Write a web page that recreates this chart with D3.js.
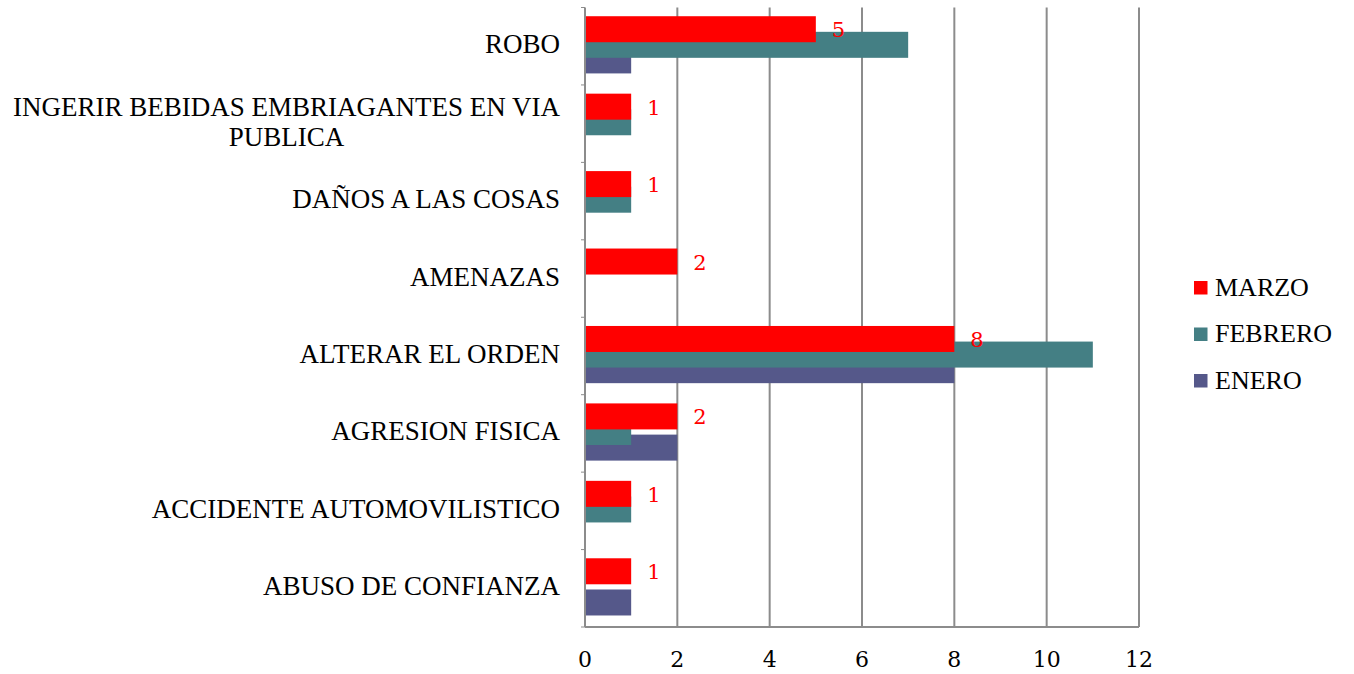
<!DOCTYPE html>
<html>
<head>
<meta charset="utf-8">
<script src="https://cdn.jsdelivr.net/npm/d3@7"></script>
<style>
  html, body { margin: 0; padding: 0; background: #fff; }
  svg { display: block; }
  text { font-family: "Liberation Serif", "Times New Roman", serif; }
  text.num { font-family: "DejaVu Serif", serif; }
</style>
</head>
<body>
<svg id="chart" width="1354" height="674"></svg>
<script>
const categories = [
  "ROBO",
  "INGERIR BEBIDAS EMBRIAGANTES EN VIA PUBLICA",
  "DAÑOS A LAS COSAS",
  "AMENAZAS",
  "ALTERAR EL ORDEN",
  "AGRESION FISICA",
  "ACCIDENTE AUTOMOVILISTICO",
  "ABUSO DE CONFIANZA"
];
const seriesNames = ["MARZO", "FEBRERO", "ENERO"];
const marzo   = [5, 1, 1, 2, 8, 2, 1, 1];
const febrero = [7, 1, 1, 0, 11, 1, 1, 0];
const enero   = [1, 0, 0, 0, 8, 2, 0, 1];
const xTicks = [0, 2, 4, 6, 8, 10, 12];
const colors = { MARZO: "#FF0000", FEBRERO: "#447F84", ENERO: "#55588A" };

const seriesValues = { MARZO: marzo, FEBRERO: febrero, ENERO: enero };

const svg = d3.select("#chart");
const plotLeft = 585, plotRight = 1139, plotTop = 7.5, plotBottom = 627;

const x = d3.scaleLinear().domain([0, 12]).range([plotLeft, plotRight]);
const y = d3.scaleBand().domain(categories).range([plotTop, plotBottom]).padding(0);

const gridColor = "#8C8C8C";

// vertical gridlines
svg.append("g").selectAll("line").data(xTicks.slice(1)).join("line")
  .attr("x1", d => x(d)).attr("x2", d => x(d))
  .attr("y1", plotTop).attr("y2", plotBottom)
  .attr("stroke", gridColor).attr("stroke-width", 2);

// bottom axis line
svg.append("line").attr("x1", plotLeft).attr("x2", plotRight).attr("y1", plotBottom).attr("y2", plotBottom)
  .attr("stroke", gridColor).attr("stroke-width", 2);

// bars
const barH = 26, step = 15.6;
const drawOrder = ["ENERO", "FEBRERO", "MARZO"];
drawOrder.forEach(name => {
  const idx = seriesNames.indexOf(name);
  svg.append("g").selectAll("rect").data(categories).join("rect")
    .attr("x", x(0))
    .attr("y", c => y(c) + y.bandwidth() / 2 - 30 + idx * step)
    .attr("width", (c, i) => x(seriesValues[name][i]) - x(0))
    .attr("height", barH)
    .attr("fill", colors[name]);
});

// left axis line + ticks
svg.append("line").attr("x1", plotLeft).attr("x2", plotLeft).attr("y1", plotTop).attr("y2", plotBottom)
  .attr("stroke", gridColor).attr("stroke-width", 2);
const bounds = categories.map(c => y(c)).concat([plotBottom]);
svg.append("g").selectAll("line").data(bounds).join("line")
  .attr("x1", plotLeft - 4).attr("x2", plotLeft)
  .attr("y1", d => d).attr("y2", d => d)
  .attr("stroke", gridColor).attr("stroke-width", 1);

// data labels for MARZO
svg.append("g").selectAll("text").data(categories).join("text")
  .attr("class", "num")
  .attr("x", (c, i) => x(marzo[i]) + 16)
  .attr("y", c => y(c) + y.bandwidth() / 2 - 30 + barH / 2 + 8)
  .attr("fill", "#FF0000")
  .attr("font-size", 21)
  .text((c, i) => marzo[i]);

// x tick labels
svg.append("g").selectAll("text").data(xTicks).join("text")
  .attr("class", "num")
  .attr("x", d => x(d)).attr("y", 667)
  .attr("text-anchor", "middle")
  .attr("font-size", 22)
  .attr("fill", "#000")
  .text(d => d);

// category labels with wrapping
const labelRight = 560, maxW = 560, fs = 27, lh = 30;
const measure = svg.append("text").attr("font-size", fs).attr("visibility", "hidden");
function textW(s) { measure.text(s); return measure.node().getComputedTextLength(); }
categories.forEach(c => {
  const words = c.split(" ");
  const lines = [];
  let cur = "";
  words.forEach(w => {
    const t = cur ? cur + " " + w : w;
    if (textW(t) > maxW && cur) { lines.push(cur); cur = w; } else cur = t;
  });
  lines.push(cur);
  const cy = y(c) + y.bandwidth() / 2;
  const g = svg.append("text").attr("font-size", fs).attr("fill", "#000");
  if (lines.length === 1) {
    g.attr("text-anchor", "end").attr("x", labelRight).attr("y", cy + 7).text(lines[0]);
  } else {
    const mw = d3.max(lines, textW);
    const cx = labelRight - mw / 2;
    g.attr("text-anchor", "middle");
    lines.forEach((l, i) => {
      g.append("tspan").attr("x", cx).attr("y", cy + 7 - (lines.length - 1) * lh / 2 + i * lh).text(l);
    });
  }
});
measure.remove();

// legend
const legend = svg.append("g");
seriesNames.forEach((name, i) => {
  const ly = 287.5 + i * 46.5;
  legend.append("rect").attr("x", 1194).attr("y", ly - 6.5).attr("width", 13.5).attr("height", 13.5)
    .attr("fill", colors[name]);
  legend.append("text").attr("x", 1215).attr("y", ly + 8).attr("font-size", 26).attr("fill", "#000").text(name);
});
</script>
</body>
</html>
